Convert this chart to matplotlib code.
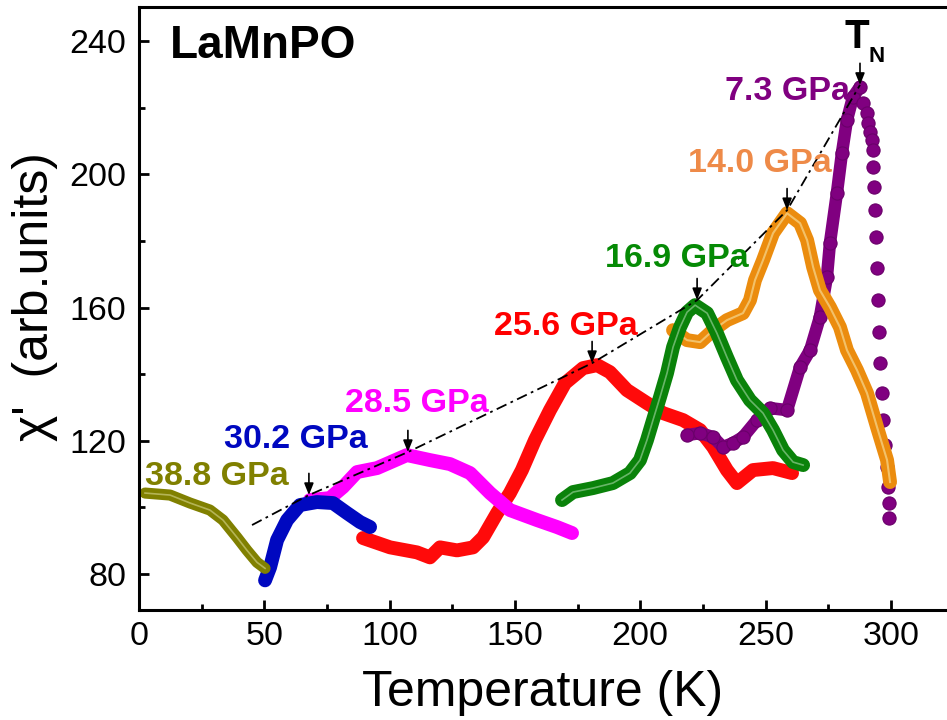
import numpy as np
import matplotlib
matplotlib.use("Agg")
import matplotlib.pyplot as plt

plt.rcParams['font.family'] = ['Liberation Sans', 'DejaVu Sans']

# curves: temperature (K), chi' (arb. units)
t_388 = [2.4, 12.4, 20.4, 28.3, 33.5, 39.1, 43.1, 47.1, 50.3]
c_388 = [104.3, 103.7, 101.3, 99.2, 96.2, 91.0, 87.1, 83.5, 81.7]

t_302 = [50.3, 52.3, 55.1, 59.1, 64.2, 71.0, 77.4, 83.0, 88.2, 92.2]
c_302 = [78.1, 82.0, 90.2, 96.2, 100.7, 101.6, 101.3, 98.3, 95.6, 94.1]

t_285 = [68.2, 76.2, 81.4, 87.0, 95.0, 106.9, 116.1, 124.1, 132.1, 140.1,
         148.0, 158.8, 166.8, 172.8]
c_285 = [102.2, 102.8, 106.1, 110.6, 111.8, 115.7, 114.2, 113.0, 110.3, 104.3,
         99.2, 96.2, 94.1, 92.3]

t_256 = [89.4, 100.2, 110.9, 116.1, 120.1, 126.9, 133.3, 137.3, 142.9, 148.0,
         152.8, 158.0, 164.0, 170.0, 177.2, 182.8, 187.9, 194.7, 202.7, 209.1,
         217.1, 223.9, 229.1, 234.6, 238.6, 245.0, 253.0, 260.6]
c_256 = [90.8, 88.0, 86.5, 85.0, 88.0, 87.1, 88.0, 91.0, 98.3, 104.3,
         111.2, 120.2, 129.2, 137.3, 141.8, 142.7, 140.6, 135.2, 131.3, 128.3,
         126.2, 123.2, 118.1, 111.2, 107.3, 111.2, 111.8, 110.3]

t_169 = [168.8, 173.2, 181.2, 189.1, 195.9, 199.9, 202.7, 205.1, 207.9, 210.7,
         213.1, 215.9, 218.7, 221.9, 226.7, 230.6, 234.6, 238.6, 243.8, 249.0,
         253.0, 257.0, 261.0, 265.0]
c_169 = [102.2, 104.6, 105.8, 107.3, 110.3, 114.2, 120.2, 126.2, 133.1, 140.3,
         148.1, 154.1, 158.6, 160.7, 158.3, 152.3, 145.1, 138.2, 132.2, 128.3,
         123.2, 117.2, 113.6, 112.7]

t_140 = [213.1, 218.7, 223.9, 229.1, 234.6, 241.0, 243.8, 245.8, 249.0, 253.0,
         258.6, 263.8, 266.6, 269.0, 271.7, 275.7, 279.7, 282.5, 286.5, 290.5,
         294.5, 298.5, 299.7]
c_140 = [153.2, 150.2, 149.6, 153.2, 156.2, 158.3, 162.2, 168.2, 174.2, 182.3,
         188.3, 185.3, 180.2, 172.1, 165.2, 160.1, 154.1, 147.2, 141.2, 134.3,
         124.1, 114.2, 107.6]

# 7.3 GPa: dense rising side, then sparse points after the peak
t_73_up = [218.7, 223.9, 229.1, 233.0, 237.0, 241.0, 246.6, 251.8, 258.6, 263.8,
           267.8, 271.7, 274.5, 275.7, 278.5, 280.5, 282.5, 284.9, 287.7]
c_73_up = [121.7, 122.3, 121.1, 118.1, 119.3, 121.1, 126.2, 129.8, 129.2, 142.1,
           147.2, 157.1, 169.1, 179.3, 194.4, 206.4, 216.3, 223.2, 226.2]
t_73_dn = [288.9, 290.5, 290.9, 291.7, 292.5, 292.9, 292.9, 293.3, 293.7, 294.1,
           294.5, 294.9, 295.3, 295.7, 296.5, 296.9, 297.7, 298.5, 298.9, 299.3, 299.3]
c_73_dn = [221.4, 218.4, 215.4, 212.7, 210.3, 207.3, 202.2, 196.2, 189.2, 181.1,
           171.8, 162.2, 152.6, 143.3, 134.3, 126.2, 118.7, 112.1, 106.1, 101.3, 96.8]

# T_N guide line and arrow tips
tn_t = [45.1, 67.8, 107.3, 180.8, 222.7, 258.6, 287.7]
tn_c = [94.7, 103.7, 116.6, 143.3, 162.2, 189.2, 226.8]

labels = ["38.8 GPa", "30.2 GPa", "28.5 GPa", "25.6 GPa", "16.9 GPa", "14.0 GPa", "7.3 GPa"]
label_t = [2.4, 33.9, 82.2, 141.7, 186.0, 219.1, 233.8]
label_c = [106.7, 117.8, 128.6, 151.7, 172.1, 200.7, 222.3]
label_colors = ["#808000", "#0008c0", "#ff00ff", "#ff0000", "#058a05", "#ee8a48", "#800080"]

fig = plt.figure(figsize=(9.47, 7.2), dpi=100)
ax = fig.add_axes([139/947, 110/720, 827/947, 603/720])
ax.set_xlim(0, 330)
ax.set_ylim(69.2, 250.2)

lw = 10
kw = dict(solid_capstyle="round", solid_joinstyle="round")
ax.plot(t_256, c_256, color="#ff0a0a", lw=lw, **kw)
ax.plot(t_285, c_285, color="#ff00ff", lw=lw, **kw)
ax.plot(t_302, c_302, color="#0008c0", lw=lw, **kw)
ax.plot(t_388, c_388, color="#808000", lw=lw - 2, **kw)
ax.plot(t_388, c_388, color="#d8d890", lw=1.2, alpha=0.6)

ax.plot(t_73_up, c_73_up, color="#800080", lw=lw - 1, **kw)
ax.plot(t_73_up, c_73_up, "o", color="#800080", ms=9.5, mec="#6a006a", mew=0.8)
ax.plot(t_73_dn, c_73_dn, "o", color="#800080", ms=9.5, mec="#6a006a", mew=0.8)

ax.plot(t_140, c_140, color="#eb8c0e", lw=lw, **kw)
ax.plot(t_140, c_140, color="#f6d890", lw=1.5, alpha=0.7)
ax.plot(t_169, c_169, color="#0a820a", lw=lw, **kw)
ax.plot(t_169, c_169, color="#a8d8a8", lw=1.2, alpha=0.6)

ax.plot(tn_t, tn_c, color="black", lw=1.3, dashes=(6, 2.5, 1.5, 2.5))
for t, c in zip(tn_t[1:], tn_c[1:]):
    ax.annotate("", xy=(t, c), xytext=(t, c + 6.5),
                arrowprops=dict(arrowstyle="-|>,head_length=0.7,head_width=0.28",
                                color="black", lw=1.2, shrinkA=0, shrinkB=0))

for s, t, c, col in zip(labels, label_t, label_c, label_colors):
    ax.text(t, c, s, color=col, fontsize=24.5, fontweight="bold", ha="left", va="baseline")

ax.text(12.4, 235.0, "LaMnPO", fontsize=33, fontweight="bold", va="baseline")
ax.text(281.7, 237.9, "T", fontsize=29, fontweight="bold", va="baseline")
ax.text(291.2, 233.6, "N", fontsize=16, fontweight="bold", va="baseline")

ax.set_xticks([0, 50, 100, 150, 200, 250, 300])
ax.set_xticks([25, 75, 125, 175, 225, 275], minor=True)
ax.set_yticks([80, 120, 160, 200, 240])
ax.set_yticks([100, 140, 180, 220], minor=True)
ax.tick_params(which="both", direction="in", width=2, labelsize=24.5)
ax.tick_params(which="major", length=7)
ax.tick_params(which="minor", length=4.5)
ax.tick_params(axis="x", pad=8)
ax.tick_params(axis="y", pad=9)
for sp in ax.spines.values():
    sp.set_linewidth(2.2)

ax.set_xlabel("Temperature (K)", fontsize=36)
ax.xaxis.set_label_coords(404/827, -0.100)
ax.set_ylabel("χ'  (arb.units)", fontsize=36)
ax.yaxis.set_label_coords(-0.098, 0.519)

fig.savefig("out.png", dpi=100)
